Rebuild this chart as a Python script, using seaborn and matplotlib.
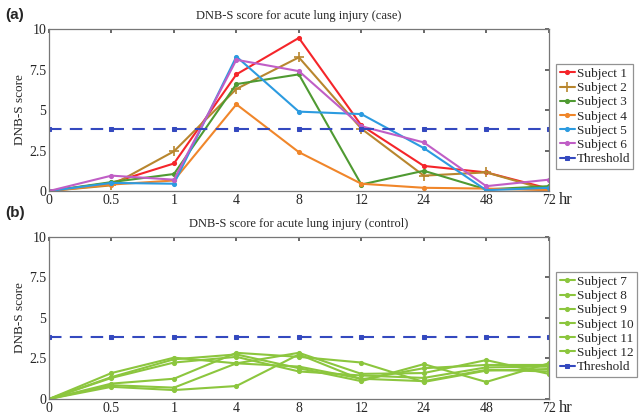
import pandas as pd
import matplotlib.pyplot as plt
import seaborn as sns

# Data
time_labels = ['0', '0.5', '1', '4', '8', '12', '24', '48', '72']
threshold = 3.8

case_names = ['Subject 1', 'Subject 2', 'Subject 3', 'Subject 4', 'Subject 5', 'Subject 6']
subject1 = [0, 0.5, 1.7, 7.2, 9.45, 4.05, 1.55, 1.15, 0.15]
subject2 = [0, 0.35, 2.45, 6.3, 8.25, 3.85, 0.95, 1.15, 0.05]
subject3 = [0, 0.55, 1.05, 6.6, 7.2, 0.4, 1.25, 0.1, 0.3]
subject4 = [0, 0.4, 0.65, 5.35, 2.4, 0.45, 0.2, 0.15, 0.05]
subject5 = [0, 0.5, 0.45, 8.3, 4.9, 4.75, 2.65, 0.05, 0.2]
subject6 = [0, 0.95, 0.7, 8.1, 7.4, 4.0, 3.0, 0.3, 0.7]

control_names = ['Subject 7', 'Subject 8', 'Subject 9', 'Subject 10', 'Subject 11', 'Subject 12']
subject7 = [0, 1.6, 2.55, 2.2, 2.0, 1.25, 1.1, 1.8, 1.7]
subject8 = [0, 1.35, 2.45, 2.75, 1.9, 1.1, 2.15, 1.05, 2.2]
subject9 = [0, 1.3, 2.25, 2.6, 1.7, 1.45, 1.3, 1.95, 2.0]
subject10 = [0, 0.95, 1.25, 2.85, 2.6, 2.25, 1.05, 1.75, 1.85]
subject11 = [0, 0.85, 0.7, 2.2, 2.85, 1.55, 1.6, 2.4, 1.55]
subject12 = [0, 0.75, 0.55, 0.8, 2.75, 1.2, 1.9, 2.1, 2.1]

case_values = [subject1, subject2, subject3, subject4, subject5, subject6]
control_values = [subject7, subject8, subject9, subject10, subject11, subject12]

case_colors = ['#f5252a', '#b8862e', '#4f9a32', '#f0862a', '#2c9be0', '#c05ec6']
case_markers = ['.', '+', '.', '.', '.', '.']
control_color = '#8cc63e'
threshold_color = '#3449bf'

sns.set_theme(style="white")
plt.rcParams['font.family'] = ['Liberation Serif', 'DejaVu Serif']


def make_long(names, values):
    rows = []
    for name, vals in zip(names, values):
        for i, v in enumerate(vals):
            rows.append({'subject': name, 'pos': i, 'score': v})
    return pd.DataFrame(rows)


def style_axes(ax, title):
    ax.set_xlim(0, len(time_labels) - 1)
    ax.set_ylim(0, 10)
    ax.set_xticks(range(len(time_labels)))
    ax.set_xticklabels(time_labels)
    ax.set_yticks([0, 2.5, 5, 7.5, 10])
    ax.set_yticklabels(['0', '2.5', '5', '7.5', '10'])
    ax.tick_params(direction='in', length=3, labelsize=10, pad=2,
                   top=True, right=True, color='#555555')
    ax.set_xlabel('')
    ax.set_ylabel('DNB-S score', fontsize=9.5, labelpad=2)
    ax.set_title(title, fontsize=9, pad=7)
    for sp in ax.spines.values():
        sp.set_color('#777777')
        sp.set_linewidth(0.9)
    # unit label sitting after the last tick label
    ax.text(1.021, -0.055, 'hr', transform=ax.transAxes, fontsize=12,
            ha='left', va='center')


def draw_panel(ax, names, values, colors, markers, title):
    df = make_long(names, values)
    for name, color, marker in zip(names, colors, markers):
        sub = df[df['subject'] == name]
        sns.lineplot(data=sub, x='pos', y='score', ax=ax, color=color,
                     marker=marker, markersize=7 if marker == '+' else 5,
                     markeredgecolor=color, markeredgewidth=1.2,
                     linewidth=1.5, label=name)
    thr = pd.DataFrame({'pos': range(len(time_labels)),
                        'score': [threshold] * len(time_labels)})
    sns.lineplot(data=thr, x='pos', y='score', ax=ax, color=threshold_color,
                 marker='s', markersize=3.2, markeredgecolor=threshold_color,
                 linewidth=1.5, dashes=False, label='Threshold')
    ax.lines[-1].set_linestyle((0, (6, 4)))
    style_axes(ax, title)
    leg = ax.legend(loc='center left', bbox_to_anchor=(1.015, 0.46),
                    fontsize=9.5, frameon=True, fancybox=False,
                    edgecolor='#777777', borderpad=0.25, labelspacing=0.15,
                    handlelength=1.2, handletextpad=0.1, borderaxespad=0)
    leg.get_frame().set_linewidth(0.9)
    for h in leg.get_lines():
        h.set_linestyle('-')


fig = plt.figure(figsize=(6.39, 4.18), dpi=100)
ax1 = fig.add_axes([0.0767, 0.543, 0.782, 0.3876])
ax2 = fig.add_axes([0.0767, 0.0455, 0.782, 0.3876])

draw_panel(ax1, case_names, case_values, case_colors, case_markers,
           'DNB-S score for acute lung injury (case)')
draw_panel(ax2, control_names, control_values, [control_color] * 6,
           ['.'] * 6, 'DNB-S score for acute lung injury (control)')

fig.text(0.008, 0.965, '(a)', fontsize=11, fontweight='bold',
         family='Liberation Sans', va='center')
fig.text(0.008, 0.49, '(b)', fontsize=11, fontweight='bold',
         family='Liberation Sans', va='center')

fig.savefig('out.png', dpi=100)
